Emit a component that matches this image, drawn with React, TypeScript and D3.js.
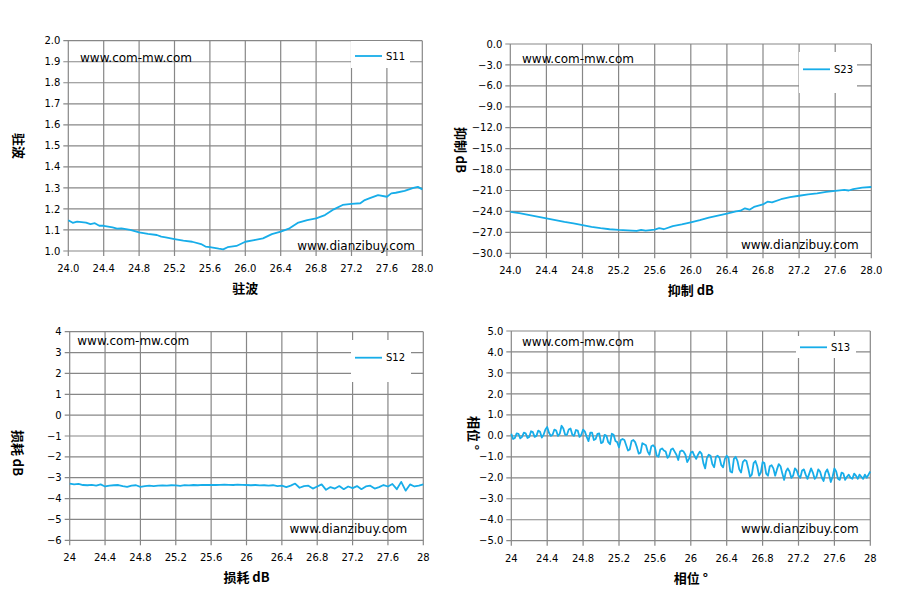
import * as d3 from 'd3';
import React, { useEffect, useRef } from 'react';

// frequency ticks (GHz), shared by all four panels
const freqTicks = [24.0, 24.4, 24.8, 25.2, 25.6, 26.0, 26.4, 26.8, 27.2, 27.6, 28.0];

// S11 VSWR: [freq, vswr]
const s11Points: [number, number][] = [
    [24.0, 1.146], [24.05, 1.134], [24.1, 1.140], [24.2, 1.135], [24.25, 1.128], [24.3, 1.132],
    [24.35, 1.120], [24.4, 1.120], [24.5, 1.112], [24.55, 1.106], [24.6, 1.108], [24.7, 1.100],
    [24.8, 1.089], [24.9, 1.081], [25.0, 1.076], [25.05, 1.068], [25.1, 1.065], [25.2, 1.057],
    [25.3, 1.049], [25.4, 1.044], [25.5, 1.033], [25.55, 1.021], [25.6, 1.018], [25.7, 1.011],
    [25.75, 1.008], [25.8, 1.018], [25.9, 1.024], [26.0, 1.044], [26.1, 1.052], [26.2, 1.060],
    [26.3, 1.080], [26.4, 1.092], [26.5, 1.108], [26.6, 1.135], [26.7, 1.147], [26.8, 1.155],
    [26.9, 1.171], [27.0, 1.198], [27.1, 1.219], [27.2, 1.224], [27.3, 1.227], [27.35, 1.242],
    [27.4, 1.250], [27.5, 1.266], [27.6, 1.258], [27.65, 1.274], [27.7, 1.277], [27.8, 1.286],
    [27.9, 1.300], [27.95, 1.305], [28.0, 1.293],
];

// S23 rejection dB, top-right panel: [freq, dB]
const s23Points: [number, number][] = [
    [24.0, -24.05], [24.1, -24.25], [24.2, -24.5], [24.3, -24.75], [24.4, -25.0], [24.5, -25.25],
    [24.6, -25.5], [24.7, -25.7], [24.8, -25.95], [24.9, -26.2], [25.0, -26.4], [25.1, -26.55],
    [25.2, -26.65], [25.3, -26.72], [25.4, -26.8], [25.45, -26.65], [25.5, -26.75], [25.6, -26.6],
    [25.65, -26.4], [25.7, -26.55], [25.8, -26.1], [25.9, -25.85], [26.0, -25.55], [26.1, -25.25],
    [26.2, -24.9], [26.3, -24.6], [26.4, -24.3], [26.5, -24.0], [26.55, -23.9], [26.6, -23.55],
    [26.65, -23.75], [26.7, -23.35], [26.8, -23.0], [26.85, -22.6], [26.9, -22.7], [27.0, -22.25],
    [27.1, -21.95], [27.2, -21.75], [27.3, -21.55], [27.4, -21.4], [27.5, -21.2], [27.6, -21.05],
    [27.7, -20.9], [27.75, -21.0], [27.8, -20.8], [27.9, -20.6], [28.0, -20.5],
];

// S12 insertion loss dB, bottom-left panel, sweep 24 to 28 GHz in 0.05 steps
const s12Db = [
    -3.28, -3.32, -3.30, -3.35, -3.36, -3.34, -3.38, -3.32, -3.42, -3.38,
    -3.36, -3.35, -3.40, -3.44, -3.38, -3.36, -3.44, -3.40, -3.38, -3.40,
    -3.38, -3.37, -3.38, -3.36, -3.37, -3.39, -3.36, -3.37, -3.35, -3.36,
    -3.34, -3.35, -3.34, -3.35, -3.34, -3.33, -3.34, -3.35, -3.33, -3.34,
    -3.35, -3.36, -3.35, -3.37, -3.36, -3.38, -3.36, -3.40, -3.38, -3.45,
    -3.38, -3.28, -3.48, -3.40, -3.38, -3.52, -3.42, -3.32, -3.58, -3.45,
    -3.52, -3.40, -3.55, -3.42, -3.50, -3.40, -3.55, -3.42, -3.38, -3.52,
    -3.45, -3.35, -3.42, -3.30, -3.55, -3.20, -3.62, -3.32, -3.42, -3.38,
    -3.32,
];

// S13 phase deg, bottom-right panel, sweep 24 to 28 GHz in 0.02 steps
const s13Phase = [
    0.10, -0.15, -0.10, 0.12, 0.10, -0.12, -0.05, 0.15, 0.12, -0.10,
    -0.05, 0.22, 0.18, -0.05, 0.00, 0.25, 0.20, -0.08, 0.05, 0.30,
    0.42, 0.15, 0.00, 0.05, 0.30, 0.25, 0.00, 0.10, 0.48, 0.35,
    0.05, 0.05, 0.30, 0.35, 0.05, 0.00, 0.28, 0.25, -0.05, 0.05,
    0.30, 0.20, -0.05, -0.25, 0.15, 0.15, -0.20, -0.15, 0.10, 0.12,
    -0.35, -0.30, 0.05, 0.00, -0.30, -0.40, 0.10, 0.05, -0.25, -0.30,
    -0.55, -0.20, -0.15, -0.20, -0.45, -0.70, -0.65, -0.25, -0.20, -0.30,
    -0.55, -0.85, -0.80, -0.35, -0.40, -0.45, -0.75, -0.90, -0.50, -0.45,
    -0.55, -0.95, -1.00, -0.65, -0.60, -0.70, -0.75, -1.05, -0.95, -0.65,
    -0.60, -0.75, -0.90, -1.15, -0.75, -0.70, -0.75, -0.90, -1.25, -1.10,
    -0.80, -0.75, -0.95, -1.10, -0.90, -0.75, -0.85, -1.30, -1.55, -1.05,
    -0.90, -0.95, -1.35, -1.50, -1.00, -0.95, -1.05, -1.40, -1.50, -1.10,
    -0.95, -1.05, -1.70, -1.75, -1.10, -1.00, -1.20, -1.60, -1.75, -1.25,
    -1.15, -1.20, -1.55, -1.95, -1.85, -1.30, -1.20, -1.45, -1.90, -1.75,
    -1.25, -1.30, -1.80, -1.90, -1.45, -1.40, -1.55, -1.90, -1.60, -1.35,
    -1.45, -1.80, -2.10, -1.70, -1.55, -1.70, -2.00, -1.90, -1.55, -1.65,
    -1.90, -2.00, -1.65, -1.60, -1.85, -2.05, -1.80, -1.55, -1.75, -2.05,
    -1.95, -1.60, -1.70, -2.00, -2.15, -1.75, -1.60, -1.85, -2.20, -1.95,
    -1.55, -1.70, -2.05, -2.10, -1.75, -1.80, -2.10, -1.95, -1.85, -2.00,
    -2.05, -1.80, -1.90, -2.05, -1.85, -1.95, -2.05, -1.85, -2.00, -1.85,
    -1.70,
];

const s11Ticks = [1.0, 1.1, 1.2, 1.3, 1.4, 1.5, 1.6, 1.7, 1.8, 1.9, 2.0];
const s23Ticks = [0, -3, -6, -9, -12, -15, -18, -21, -24, -27, -30];
const s12Ticks = [4, 3, 2, 1, 0, -1, -2, -3, -4, -5, -6];
const s13Ticks = [5, 4, 3, 2, 1, 0, -1, -2, -3, -4, -5];

const LINE = '#17ade9';
const GRID = '#878787';
const FONT = '"DejaVu Sans", Verdana, sans-serif';
const CJK = '"Noto Sans CJK SC", sans-serif';

export default () => {
    const ref = useRef<any>();

    useEffect(() => {
        const svg = d3.select<any, any>(ref.current);
        svg.selectAll('*').remove();

        const s12Freq = d3.range(s12Db.length).map((i) => 24 + i * 0.05);
        const s13Freq = d3.range(s13Phase.length).map((i) => 24 + i * 0.02);

        const panels: any[] = [
            {
                box: { left: 68.3, right: 422.3, top: 40.7, bottom: 251 },
                yDomain: [1, 2], yTicks: s11Ticks, yFmt: d3.format('.1f'), xFmt: d3.format('.1f'),
                points: s11Points, name: 'S11', title: '驻波',
                legend: { x0: 351, x1: 410, y0: 41, y1: 68, ly: 56 },
                wm1: [80, 62], wm2: [415, 250], yTitle: [18.5, 146],
            },
            {
                box: { left: 510.3, right: 871.3, top: 44, bottom: 253.3 },
                yDomain: [-30, 0], yTicks: s23Ticks, yFmt: d3.format('.1f'), xFmt: d3.format('.1f'),
                points: s23Points, name: 'S23', title: '抑制 dB',
                legend: { x0: 799, x1: 857, y0: 52, y1: 93, ly: 69.3 },
                wm1: [522, 63], wm2: [858.7, 249], yTitle: [461, 150],
            },
            {
                box: { left: 69.7, right: 423.3, top: 331.7, bottom: 540.3 },
                yDomain: [-6, 4], yTicks: s12Ticks, yFmt: d3.format(''), xFmt: d3.format(''),
                points: s12Freq.map((f, i) => [f, s12Db[i]]), name: 'S12', title: '损耗 dB',
                legend: { x0: 351, x1: 411, y0: 340, y1: 382, ly: 357.7 },
                wm1: [77.3, 345], wm2: [407.3, 533.3], yTitle: [18, 453],
            },
            {
                box: { left: 511.3, right: 870.3, top: 331, bottom: 540.7 },
                yDomain: [-5, 5], yTicks: s13Ticks, yFmt: d3.format('.1f'), xFmt: d3.format(''),
                points: s13Freq.map((f, i) => [f, s13Phase[i]]), name: 'S13', title: '相位 °',
                legend: { x0: 796, x1: 856, y0: 336, y1: 358, ly: 347.3 },
                wm1: [522, 345.7], wm2: [858.7, 533.3], yTitle: [474, 433],
            },
        ];

        panels.forEach((p) => {
            const b = p.box;
            const x = d3.scaleLinear().domain([24, 28]).range([b.left, b.right]);
            const y = d3.scaleLinear().domain(p.yDomain).range([b.bottom, b.top]);
            const g = svg.append('g');

            // grid, with the short outside tick marks
            g.selectAll('.hgrid').data(p.yTicks).join('line')
                .attr('x1', b.left - 5).attr('x2', b.right)
                .attr('y1', (d: any) => y(d)).attr('y2', (d: any) => y(d))
                .attr('stroke', GRID).attr('stroke-width', 1.2);
            g.selectAll('.vgrid').data(freqTicks).join('line')
                .attr('x1', (d: any) => x(d)).attr('x2', (d: any) => x(d))
                .attr('y1', b.top).attr('y2', b.bottom + 5)
                .attr('stroke', GRID).attr('stroke-width', 1.2);

            // tick labels
            g.selectAll('.ylab').data(p.yTicks).join('text')
                .attr('x', b.left - 8).attr('y', (d: any) => y(d)).attr('dy', '0.36em')
                .attr('text-anchor', 'end').attr('font-family', FONT).attr('font-size', 10)
                .text((d: any) => p.yFmt(d));
            g.selectAll('.xlab').data(freqTicks).join('text')
                .attr('x', (d: any) => x(d)).attr('y', b.bottom + 21)
                .attr('text-anchor', 'middle').attr('font-family', FONT).attr('font-size', 10)
                .text((d: any) => p.xFmt(d));

            // the trace
            const line = d3.line<any>().x((d) => x(d[0])).y((d) => y(d[1]));
            g.append('path').datum(p.points)
                .attr('d', line).attr('fill', 'none')
                .attr('stroke', LINE).attr('stroke-width', 1.8).attr('stroke-linejoin', 'round');

            // legend
            const lg = p.legend;
            g.append('rect').attr('x', lg.x0).attr('y', lg.y0)
                .attr('width', lg.x1 - lg.x0).attr('height', lg.y1 - lg.y0).attr('fill', 'white');
            g.append('line').attr('x1', lg.x0 + 4).attr('x2', lg.x0 + 31)
                .attr('y1', lg.ly).attr('y2', lg.ly).attr('stroke', LINE).attr('stroke-width', 1.8);
            g.append('text').attr('x', lg.x0 + 35).attr('y', lg.ly).attr('dy', '0.36em')
                .attr('font-family', FONT).attr('font-size', 10).text(p.name);

            // watermarks
            g.append('text').attr('x', p.wm1[0]).attr('y', p.wm1[1])
                .attr('font-family', FONT).attr('font-size', 12).text('www.com-mw.com');
            g.append('text').attr('x', p.wm2[0]).attr('y', p.wm2[1]).attr('text-anchor', 'end')
                .attr('font-family', FONT).attr('font-size', 12).text('www.dianzibuy.com');

            // axis titles
            g.append('text').attr('x', (b.left + b.right) / 2).attr('y', b.bottom + 42)
                .attr('text-anchor', 'middle').attr('font-family', CJK).attr('font-weight', 'bold')
                .attr('font-size', 13).text(p.title);
            g.append('text')
                .attr('transform', `translate(${p.yTitle[0]},${p.yTitle[1]}) rotate(90)`)
                .attr('text-anchor', 'middle').attr('dy', '0.35em').attr('font-family', CJK)
                .attr('font-weight', 'bold').attr('font-size', 13).text(p.title);
        });
    }, []);

    return (
        <React.Fragment>
            <svg ref={ref} width={897} height={605}
                style={{ position: 'absolute', left: 0, top: 0, background: 'white' }}></svg>
        </React.Fragment>
    );
};
